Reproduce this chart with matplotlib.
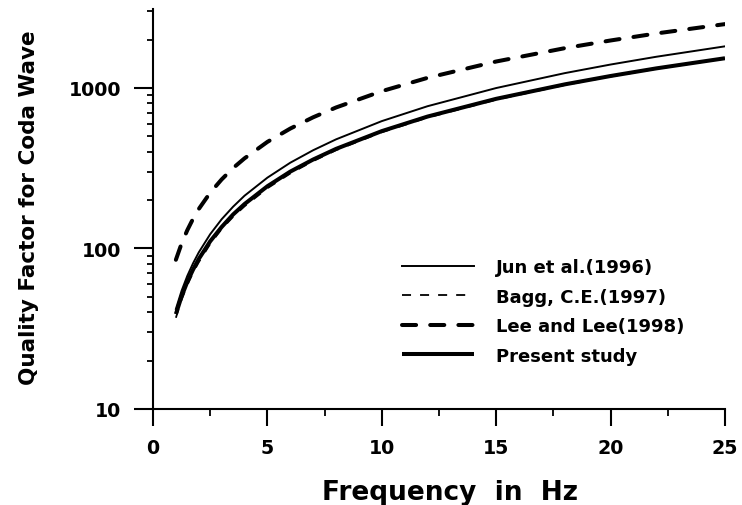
import matplotlib
matplotlib.use("Agg")
import matplotlib.pyplot as plt
from matplotlib.ticker import LogLocator, FixedLocator, MultipleLocator, NullFormatter, FixedFormatter

plt.rcParams['font.family'] = ['DejaVu Sans']
plt.rcParams['font.weight'] = 'bold'

# Frequencies (Hz) at which the curves were read
freq = [1, 1.25, 1.5, 1.75, 2, 2.5, 3, 3.5, 4, 5, 6, 7, 8, 10, 12, 15, 18, 20, 22, 25]

# Coda Q
q_jun = [42, 54.5, 67.5, 80.8, 94.5, 122.7, 152, 181.9, 213, 276, 342, 409, 478, 621, 769, 998, 1236, 1398, 1563, 1815]
q_bagg = [37, 47.9, 59, 70.6, 82, 106.6, 132, 157.3, 183, 237, 293, 350, 409, 529, 653, 844, 1042, 1177, 1314, 1523]
q_lee = [85, 107.4, 130, 153, 176, 222.5, 269, 316.7, 364, 461, 558, 656, 755, 954, 1155, 1460, 1768, 1974, 2183, 2496]
q_present = [39, 50.3, 62, 73.8, 86, 110.8, 136, 162.7, 189, 244, 301, 358, 417, 538, 663, 855, 1052, 1186, 1323, 1530]

labels = ["Jun et al.(1996)", "Bagg, C.E.(1997)", "Lee and Lee(1998)", "Present study"]

x_ticks = [0, 5, 10, 15, 20, 25]
y_ticks = [10, 100, 1000]
y_tick_labels = ["10", "100", "1000"]

fig = plt.figure(figsize=(7.42, 5.06), dpi=100)
ax = fig.add_axes([153/742, 1-410/506, 572/742, 400/506])

ax.plot(freq, q_present, color='black', lw=2.9, solid_capstyle='butt', label=labels[3])
ax.plot(freq, q_jun, color='black', lw=1.4, label=labels[0])
ax.plot(freq, q_bagg, color='black', lw=1.3, linestyle=(0, (5, 5)), label=labels[1])
ax.plot(freq, q_lee, color='black', lw=2.9, linestyle=(0, (3.5, 3.5)), dash_capstyle='round', label=labels[2])

ax.set_yscale('log')
ax.set_xlim(0, 25)
ax.set_ylim(10, 3100)

ax.xaxis.set_major_locator(FixedLocator(x_ticks))
ax.xaxis.set_minor_locator(MultipleLocator(2.5))
ax.set_xticklabels([str(v) for v in x_ticks])

ax.yaxis.set_major_locator(FixedLocator(y_ticks))
ax.yaxis.set_major_formatter(FixedFormatter(y_tick_labels))
ax.yaxis.set_minor_locator(LogLocator(base=10, subs=[2, 3, 4, 5, 6, 7, 8, 9]))
ax.yaxis.set_minor_formatter(NullFormatter())

for s in ['top', 'right']:
    ax.spines[s].set_visible(False)
for s in ['left', 'bottom']:
    ax.spines[s].set_linewidth(1.5)

ax.tick_params(axis='y', which='major', direction='out', length=14, width=1.5, pad=9, labelsize=13.7)
ax.tick_params(axis='y', which='minor', direction='out', length=4.5, width=1.3)
ax.tick_params(axis='x', which='major', direction='out', length=12, width=1.5, pad=9, labelsize=13.7)
ax.tick_params(axis='x', which='minor', direction='out', length=5, width=1.3)
for lab in ax.get_xticklabels() + ax.get_yticklabels():
    lab.set_fontweight('bold')

ax.set_xlabel("Frequency  in  Hz", fontsize=19, fontweight='bold')
ax.set_ylabel("Quality Factor for Coda Wave", fontsize=15.5, fontweight='bold')
ax.xaxis.set_label_coords(0.519, -0.175)
ax.yaxis.set_label_coords(-0.200, 0.507)

handles, labs = ax.get_legend_handles_labels()
order = [1, 2, 3, 0]
leg = ax.legend([handles[i] for i in order], [labs[i] for i in order],
                loc='upper left', bbox_to_anchor=(402/742, 1-259/506), bbox_transform=fig.transFigure,
                frameon=False, fontsize=13, handlelength=4.0, handletextpad=1.2,
                labelspacing=0.64, borderpad=0, borderaxespad=0)
for t in leg.get_texts():
    t.set_fontweight('bold')

fig.savefig("out.png", dpi=100)
